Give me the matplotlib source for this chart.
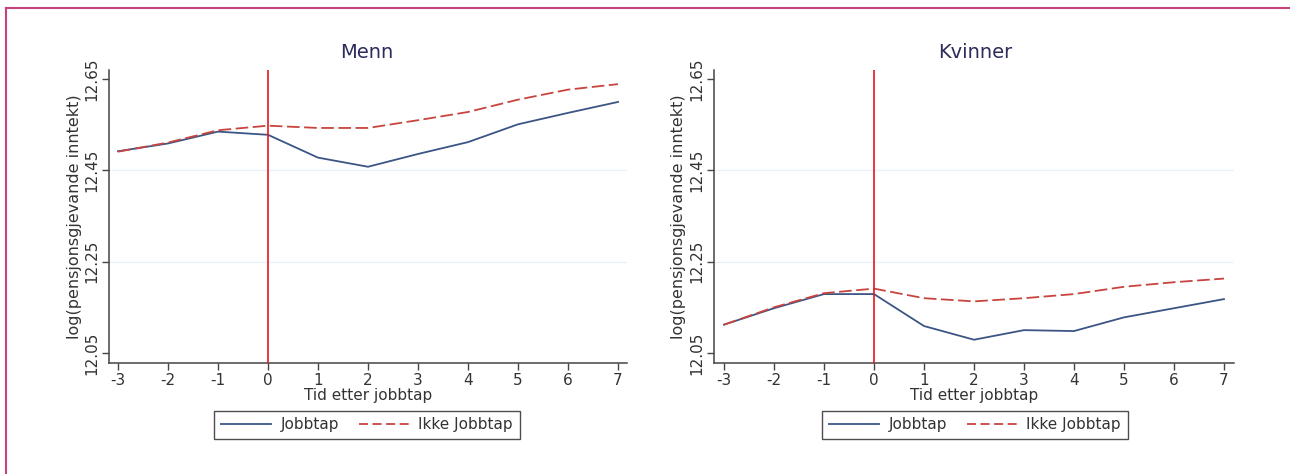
import matplotlib
matplotlib.use("Agg")
import matplotlib.pyplot as plt
from matplotlib.lines import Line2D

years = [-3, -2, -1, 0, 1, 2, 3, 4, 5, 6, 7]
menn_jobbtap = [12.492, 12.509, 12.535, 12.528, 12.478, 12.458, 12.486, 12.512, 12.551, 12.576, 12.600]
menn_ikke = [12.491, 12.511, 12.538, 12.548, 12.543, 12.543, 12.560, 12.578, 12.605, 12.627, 12.639]
kvinner_jobbtap = [12.112, 12.148, 12.179, 12.179, 12.109, 12.079, 12.100, 12.098, 12.128, 12.148, 12.168]
kvinner_ikke = [12.112, 12.150, 12.181, 12.191, 12.170, 12.163, 12.170, 12.179, 12.195, 12.205, 12.213]
yticks = [12.05, 12.25, 12.45, 12.65]
titles = ["Menn", "Kvinner"]
legend_labels = ["Jobbtap", "Ikke Jobbtap"]
xlabel = "Tid etter jobbtap"
ylabel = "log(pensjonsgjevande inntekt)"

plt.rcParams['font.family'] = ['DejaVu Sans']
W, H = 1290, 474
fig = plt.figure(figsize=(W / 100, H / 100), dpi=100)
fig.patch.set_facecolor("white")

navy = "#3b5584"
red = "#c8443f"
txt = "#333333"

panels = [
    (titles[0], menn_jobbtap, menn_ikke, 109, 627, (-3.18, 7.18), 367),
    (titles[1], kvinner_jobbtap, kvinner_ikke, 714, 1234, (-3.2, 7.2), 975),
]
top_px, bot_px = 70, 363
for title, jb, ik, lpx, rpx, xl, cx in panels:
    ax = fig.add_axes([lpx / W, (H - bot_px) / H, (rpx - lpx) / W, (bot_px - top_px) / H])
    ax.set_xlim(*xl)
    ax.set_ylim(12.028, 12.67)
    for y in yticks[1:3]:
        ax.axhline(y, color="#eaf1f8", lw=1.0, zorder=0)
    ax.plot(years, jb, color=navy, lw=1.3, zorder=3)
    ax.plot(years, ik, color=red, lw=1.3, dashes=(7, 2.5), zorder=3)
    ax.axvline(0, color="#e8161b", lw=1.2, zorder=4)
    for s in ["top", "right"]:
        ax.spines[s].set_visible(False)
    for s in ["left", "bottom"]:
        ax.spines[s].set_color("#444444")
        ax.spines[s].set_linewidth(1.1)
    ax.set_xticks(years)
    ax.set_xticklabels([str(v) for v in years])
    ax.set_yticks(yticks)
    ax.set_yticklabels([f"{v:.2f}" for v in yticks], rotation=90, va="center")
    ax.tick_params(axis="both", colors="#444444", labelcolor=txt, labelsize=11, length=5, width=1, pad=2)
    ax.set_xlabel(xlabel, fontsize=11, color=txt, labelpad=0)
    ax.set_ylabel(ylabel, fontsize=11.5, color=txt, labelpad=2)
    fig.text(cx / W, (H - 52) / H, title, ha="center", va="center", fontsize=14, color="#2b2b5c")
    handles = [Line2D([0], [0], color=navy, lw=1.3),
               Line2D([0], [0], color=red, lw=1.3, dashes=(5, 2.5))]
    leg = fig.legend(handles, legend_labels, loc="center", bbox_to_anchor=(cx / W, (H - 425) / H),
                     ncol=2, frameon=True, fancybox=False, fontsize=11, handlelength=3.3,
                     columnspacing=1.3, borderpad=0.45, handletextpad=0.6, labelcolor=txt)
    leg.get_frame().set_edgecolor("#222222")
    leg.get_frame().set_linewidth(1.0)

# magenta frame
fig.add_artist(Line2D([6 / W, 1.0], [(H - 8) / H, (H - 8) / H], color="#c4447e", lw=1.5))
fig.add_artist(Line2D([6 / W, 6 / W], [0, (H - 8) / H], color="#c4447e", lw=1.5))

fig.savefig("out.png", dpi=100, facecolor="white")
